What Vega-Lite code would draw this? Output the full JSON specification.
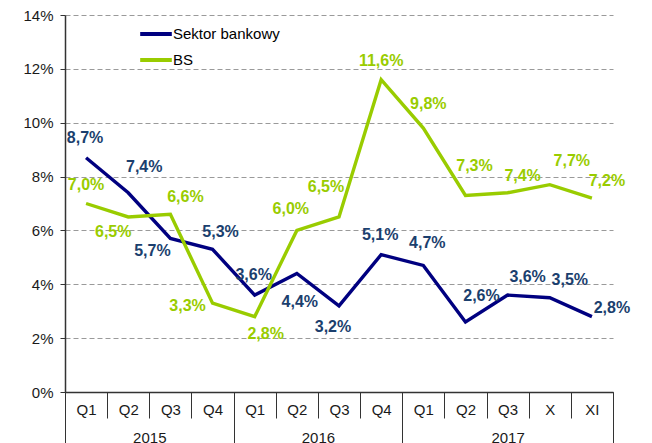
{
  "$schema": "https://vega.github.io/schema/vega-lite/v6.json",
  "width": 548,
  "height": 377,
  "autosize": {"type": "none"},
  "padding": {"left": 65, "top": 15, "right": 39, "bottom": 51},
  "background": "white",
  "config": {
    "locale": {"number": {"decimal": ",", "thousands": " ", "grouping": [3], "currency": ["", " zł"]}},
    "font": "Liberation Sans",
    "view": {"stroke": null},
    "axis": {"labelFont": "Liberation Sans", "labelColor": "#1a1a1a", "labelFontSize": 15}
  },
  "datasets": {
    "main": [
      {"s": "Sektor bankowy", "k": "2015 Q1", "v": 0.087},
      {"s": "Sektor bankowy", "k": "2015 Q2", "v": 0.074},
      {"s": "Sektor bankowy", "k": "2015 Q3", "v": 0.057},
      {"s": "Sektor bankowy", "k": "2015 Q4", "v": 0.053},
      {"s": "Sektor bankowy", "k": "2016 Q1", "v": 0.036},
      {"s": "Sektor bankowy", "k": "2016 Q2", "v": 0.044},
      {"s": "Sektor bankowy", "k": "2016 Q3", "v": 0.032},
      {"s": "Sektor bankowy", "k": "2016 Q4", "v": 0.051},
      {"s": "Sektor bankowy", "k": "2017 Q1", "v": 0.047},
      {"s": "Sektor bankowy", "k": "2017 Q2", "v": 0.026},
      {"s": "Sektor bankowy", "k": "2017 Q3", "v": 0.036},
      {"s": "Sektor bankowy", "k": "2017 X", "v": 0.035},
      {"s": "Sektor bankowy", "k": "2017 XI", "v": 0.028},
      {"s": "BS", "k": "2015 Q1", "v": 0.070},
      {"s": "BS", "k": "2015 Q2", "v": 0.065},
      {"s": "BS", "k": "2015 Q3", "v": 0.066},
      {"s": "BS", "k": "2015 Q4", "v": 0.033},
      {"s": "BS", "k": "2016 Q1", "v": 0.028},
      {"s": "BS", "k": "2016 Q2", "v": 0.060},
      {"s": "BS", "k": "2016 Q3", "v": 0.065},
      {"s": "BS", "k": "2016 Q4", "v": 0.116},
      {"s": "BS", "k": "2017 Q1", "v": 0.098},
      {"s": "BS", "k": "2017 Q2", "v": 0.073},
      {"s": "BS", "k": "2017 Q3", "v": 0.074},
      {"s": "BS", "k": "2017 X", "v": 0.077},
      {"s": "BS", "k": "2017 XI", "v": 0.072}
    ],
    "years": [{"p": 2}, {"p": 6}, {"p": 10.5}]
  },
  "layer": [
    {
      "data": {"name": "main"},
      "encoding": {
        "x": {
          "field": "k", "type": "nominal",
          "sort": ["2015 Q1","2015 Q2","2015 Q3","2015 Q4","2016 Q1","2016 Q2","2016 Q3","2016 Q4","2017 Q1","2017 Q2","2017 Q3","2017 X","2017 XI"],
          "scale": {"type": "band", "paddingInner": 0, "paddingOuter": 0},
          "axis": {"title": null, "labelExpr": "split(datum.label, ' ')[1]", "tickBand": "extent", "tickSize": 26, "tickColor": "#333", "domainColor": "#333", "domainWidth": 1.5, "labelPadding": -16, "labelAngle": 0, "grid": false, "labelColor": "#1a1a1a"}
        },
        "y": {
          "field": "v", "type": "quantitative",
          "scale": {"domain": [0, 0.14], "nice": false},
          "axis": {"title": null, "values": [0, 0.02, 0.04, 0.06, 0.08, 0.1, 0.12, 0.14], "format": ".0%", "tickSize": 5, "tickColor": "#333", "domainColor": "#333", "domainWidth": 1.5, "grid": true, "gridDash": [5, 3], "gridColor": "#9a9a9a", "labelPadding": 7}
        }
      },
      "layer": [
        {
          "mark": {"type": "line", "strokeWidth": 3.4},
          "encoding": {
            "color": {
              "field": "s", "type": "nominal",
              "scale": {"domain": ["Sektor bankowy", "BS"], "range": ["#000080", "#99CC00"]},
              "legend": {"title": null, "orient": "none", "legendX": 73, "legendY": 1, "padding": 0, "symbolType": "stroke", "symbolSize": 1000, "symbolStrokeWidth": 4, "labelFontSize": 15, "labelFont": "Liberation Sans", "labelColor": "#000", "rowPadding": -5, "labelOffset": -1}
            }
          }
        },
        {"transform": [{"filter": "datum.s=='Sektor bankowy' && indexof(['2015 Q1','2016 Q1','2016 Q4'], datum.k) >= 0"}], "mark": {"type": "text", "fontWeight": "bold", "fontSize": 16, "dx": -1, "dy": -20}, "encoding": {"text": {"field": "v", "type": "quantitative", "format": ".1%"}, "color": {"value": "#1B3F6E"}}},
        {"transform": [{"filter": "datum.s=='Sektor bankowy' && indexof(['2017 Q1'], datum.k) >= 0"}], "mark": {"type": "text", "fontWeight": "bold", "fontSize": 16, "dx": 4, "dy": -22}, "encoding": {"text": {"field": "v", "type": "quantitative", "format": ".1%"}, "color": {"value": "#1B3F6E"}}},
        {"transform": [{"filter": "datum.s=='Sektor bankowy' && indexof(['2015 Q2','2017 Q2'], datum.k) >= 0"}], "mark": {"type": "text", "fontWeight": "bold", "fontSize": 16, "dx": 16, "dy": -26}, "encoding": {"text": {"field": "v", "type": "quantitative", "format": ".1%"}, "color": {"value": "#1B3F6E"}}},
        {"transform": [{"filter": "datum.s=='Sektor bankowy' && indexof(['2017 Q3','2017 X'], datum.k) >= 0"}], "mark": {"type": "text", "fontWeight": "bold", "fontSize": 16, "dx": 20, "dy": -18}, "encoding": {"text": {"field": "v", "type": "quantitative", "format": ".1%"}, "color": {"value": "#1B3F6E"}}},
        {"transform": [{"filter": "datum.s=='Sektor bankowy' && indexof(['2015 Q4'], datum.k) >= 0"}], "mark": {"type": "text", "fontWeight": "bold", "fontSize": 16, "dx": 8, "dy": -17}, "encoding": {"text": {"field": "v", "type": "quantitative", "format": ".1%"}, "color": {"value": "#1B3F6E"}}},
        {"transform": [{"filter": "datum.s=='Sektor bankowy' && indexof(['2015 Q3'], datum.k) >= 0"}], "mark": {"type": "text", "fontWeight": "bold", "fontSize": 16, "dx": -18, "dy": 12}, "encoding": {"text": {"field": "v", "type": "quantitative", "format": ".1%"}, "color": {"value": "#1B3F6E"}}},
        {"transform": [{"filter": "datum.s=='Sektor bankowy' && indexof(['2016 Q2'], datum.k) >= 0"}], "mark": {"type": "text", "fontWeight": "bold", "fontSize": 16, "dx": 3, "dy": 28}, "encoding": {"text": {"field": "v", "type": "quantitative", "format": ".1%"}, "color": {"value": "#1B3F6E"}}},
        {"transform": [{"filter": "datum.s=='Sektor bankowy' && indexof(['2016 Q3'], datum.k) >= 0"}], "mark": {"type": "text", "fontWeight": "bold", "fontSize": 16, "dx": -6, "dy": 21}, "encoding": {"text": {"field": "v", "type": "quantitative", "format": ".1%"}, "color": {"value": "#1B3F6E"}}},
        {"transform": [{"filter": "datum.s=='Sektor bankowy' && indexof(['2017 XI'], datum.k) >= 0"}], "mark": {"type": "text", "fontWeight": "bold", "fontSize": 16, "dx": 20, "dy": -9}, "encoding": {"text": {"field": "v", "type": "quantitative", "format": ".1%"}, "color": {"value": "#1B3F6E"}}},
        {"transform": [{"filter": "datum.s=='BS' && indexof(['2015 Q1','2016 Q4'], datum.k) >= 0"}], "mark": {"type": "text", "fontWeight": "bold", "fontSize": 16, "dx": 0, "dy": -19}, "encoding": {"text": {"field": "v", "type": "quantitative", "format": ".1%"}, "color": {"value": "#99CC00"}}},
        {"transform": [{"filter": "datum.s=='BS' && indexof(['2015 Q2'], datum.k) >= 0"}], "mark": {"type": "text", "fontWeight": "bold", "fontSize": 16, "dx": -15, "dy": 15}, "encoding": {"text": {"field": "v", "type": "quantitative", "format": ".1%"}, "color": {"value": "#99CC00"}}},
        {"transform": [{"filter": "datum.s=='BS' && indexof(['2015 Q3','2017 Q3','2017 XI'], datum.k) >= 0"}], "mark": {"type": "text", "fontWeight": "bold", "fontSize": 16, "dx": 15, "dy": -17}, "encoding": {"text": {"field": "v", "type": "quantitative", "format": ".1%"}, "color": {"value": "#99CC00"}}},
        {"transform": [{"filter": "datum.s=='BS' && indexof(['2015 Q4'], datum.k) >= 0"}], "mark": {"type": "text", "fontWeight": "bold", "fontSize": 16, "dx": -25, "dy": 3}, "encoding": {"text": {"field": "v", "type": "quantitative", "format": ".1%"}, "color": {"value": "#99CC00"}}},
        {"transform": [{"filter": "datum.s=='BS' && indexof(['2016 Q1'], datum.k) >= 0"}], "mark": {"type": "text", "fontWeight": "bold", "fontSize": 16, "dx": 11, "dy": 17}, "encoding": {"text": {"field": "v", "type": "quantitative", "format": ".1%"}, "color": {"value": "#99CC00"}}},
        {"transform": [{"filter": "datum.s=='BS' && indexof(['2016 Q2'], datum.k) >= 0"}], "mark": {"type": "text", "fontWeight": "bold", "fontSize": 16, "dx": -6, "dy": -21}, "encoding": {"text": {"field": "v", "type": "quantitative", "format": ".1%"}, "color": {"value": "#99CC00"}}},
        {"transform": [{"filter": "datum.s=='BS' && indexof(['2016 Q3'], datum.k) >= 0"}], "mark": {"type": "text", "fontWeight": "bold", "fontSize": 16, "dx": -13, "dy": -30}, "encoding": {"text": {"field": "v", "type": "quantitative", "format": ".1%"}, "color": {"value": "#99CC00"}}},
        {"transform": [{"filter": "datum.s=='BS' && indexof(['2017 Q1'], datum.k) >= 0"}], "mark": {"type": "text", "fontWeight": "bold", "fontSize": 16, "dx": 5, "dy": -24}, "encoding": {"text": {"field": "v", "type": "quantitative", "format": ".1%"}, "color": {"value": "#99CC00"}}},
        {"transform": [{"filter": "datum.s=='BS' && indexof(['2017 Q2'], datum.k) >= 0"}], "mark": {"type": "text", "fontWeight": "bold", "fontSize": 16, "dx": 9, "dy": -29}, "encoding": {"text": {"field": "v", "type": "quantitative", "format": ".1%"}, "color": {"value": "#99CC00"}}},
        {"transform": [{"filter": "datum.s=='BS' && indexof(['2017 X'], datum.k) >= 0"}], "mark": {"type": "text", "fontWeight": "bold", "fontSize": 16, "dx": 22, "dy": -24}, "encoding": {"text": {"field": "v", "type": "quantitative", "format": ".1%"}, "color": {"value": "#99CC00"}}}
      ]
    },
    {
      "data": {"name": "years"},
      "mark": {"type": "point", "opacity": 0},
      "encoding": {
        "x": {
          "field": "p", "type": "quantitative",
          "scale": {"domain": [0, 13], "nice": false, "zero": false},
          "axis": {
            "orient": "bottom", "title": null, "domain": false, "grid": false,
            "values": [0, 2, 4, 6, 8, 10.5, 13],
            "labelExpr": "datum.value == 2 ? '2015' : datum.value == 6 ? '2016' : datum.value == 10.5 ? '2017' : ''",
            "tickSize": 51, "tickColor": "#333",
            "tickOpacity": {"condition": {"test": "datum.value == 2 || datum.value == 6 || datum.value == 10.5", "value": 0}, "value": 1},
            "labelPadding": -13, "labelOverlap": false, "labelFlush": false, "labelBound": false, "labelColor": "#1a1a1a"
          }
        }
      }
    }
  ],
  "resolve": {"scale": {"x": "independent"}}
}
